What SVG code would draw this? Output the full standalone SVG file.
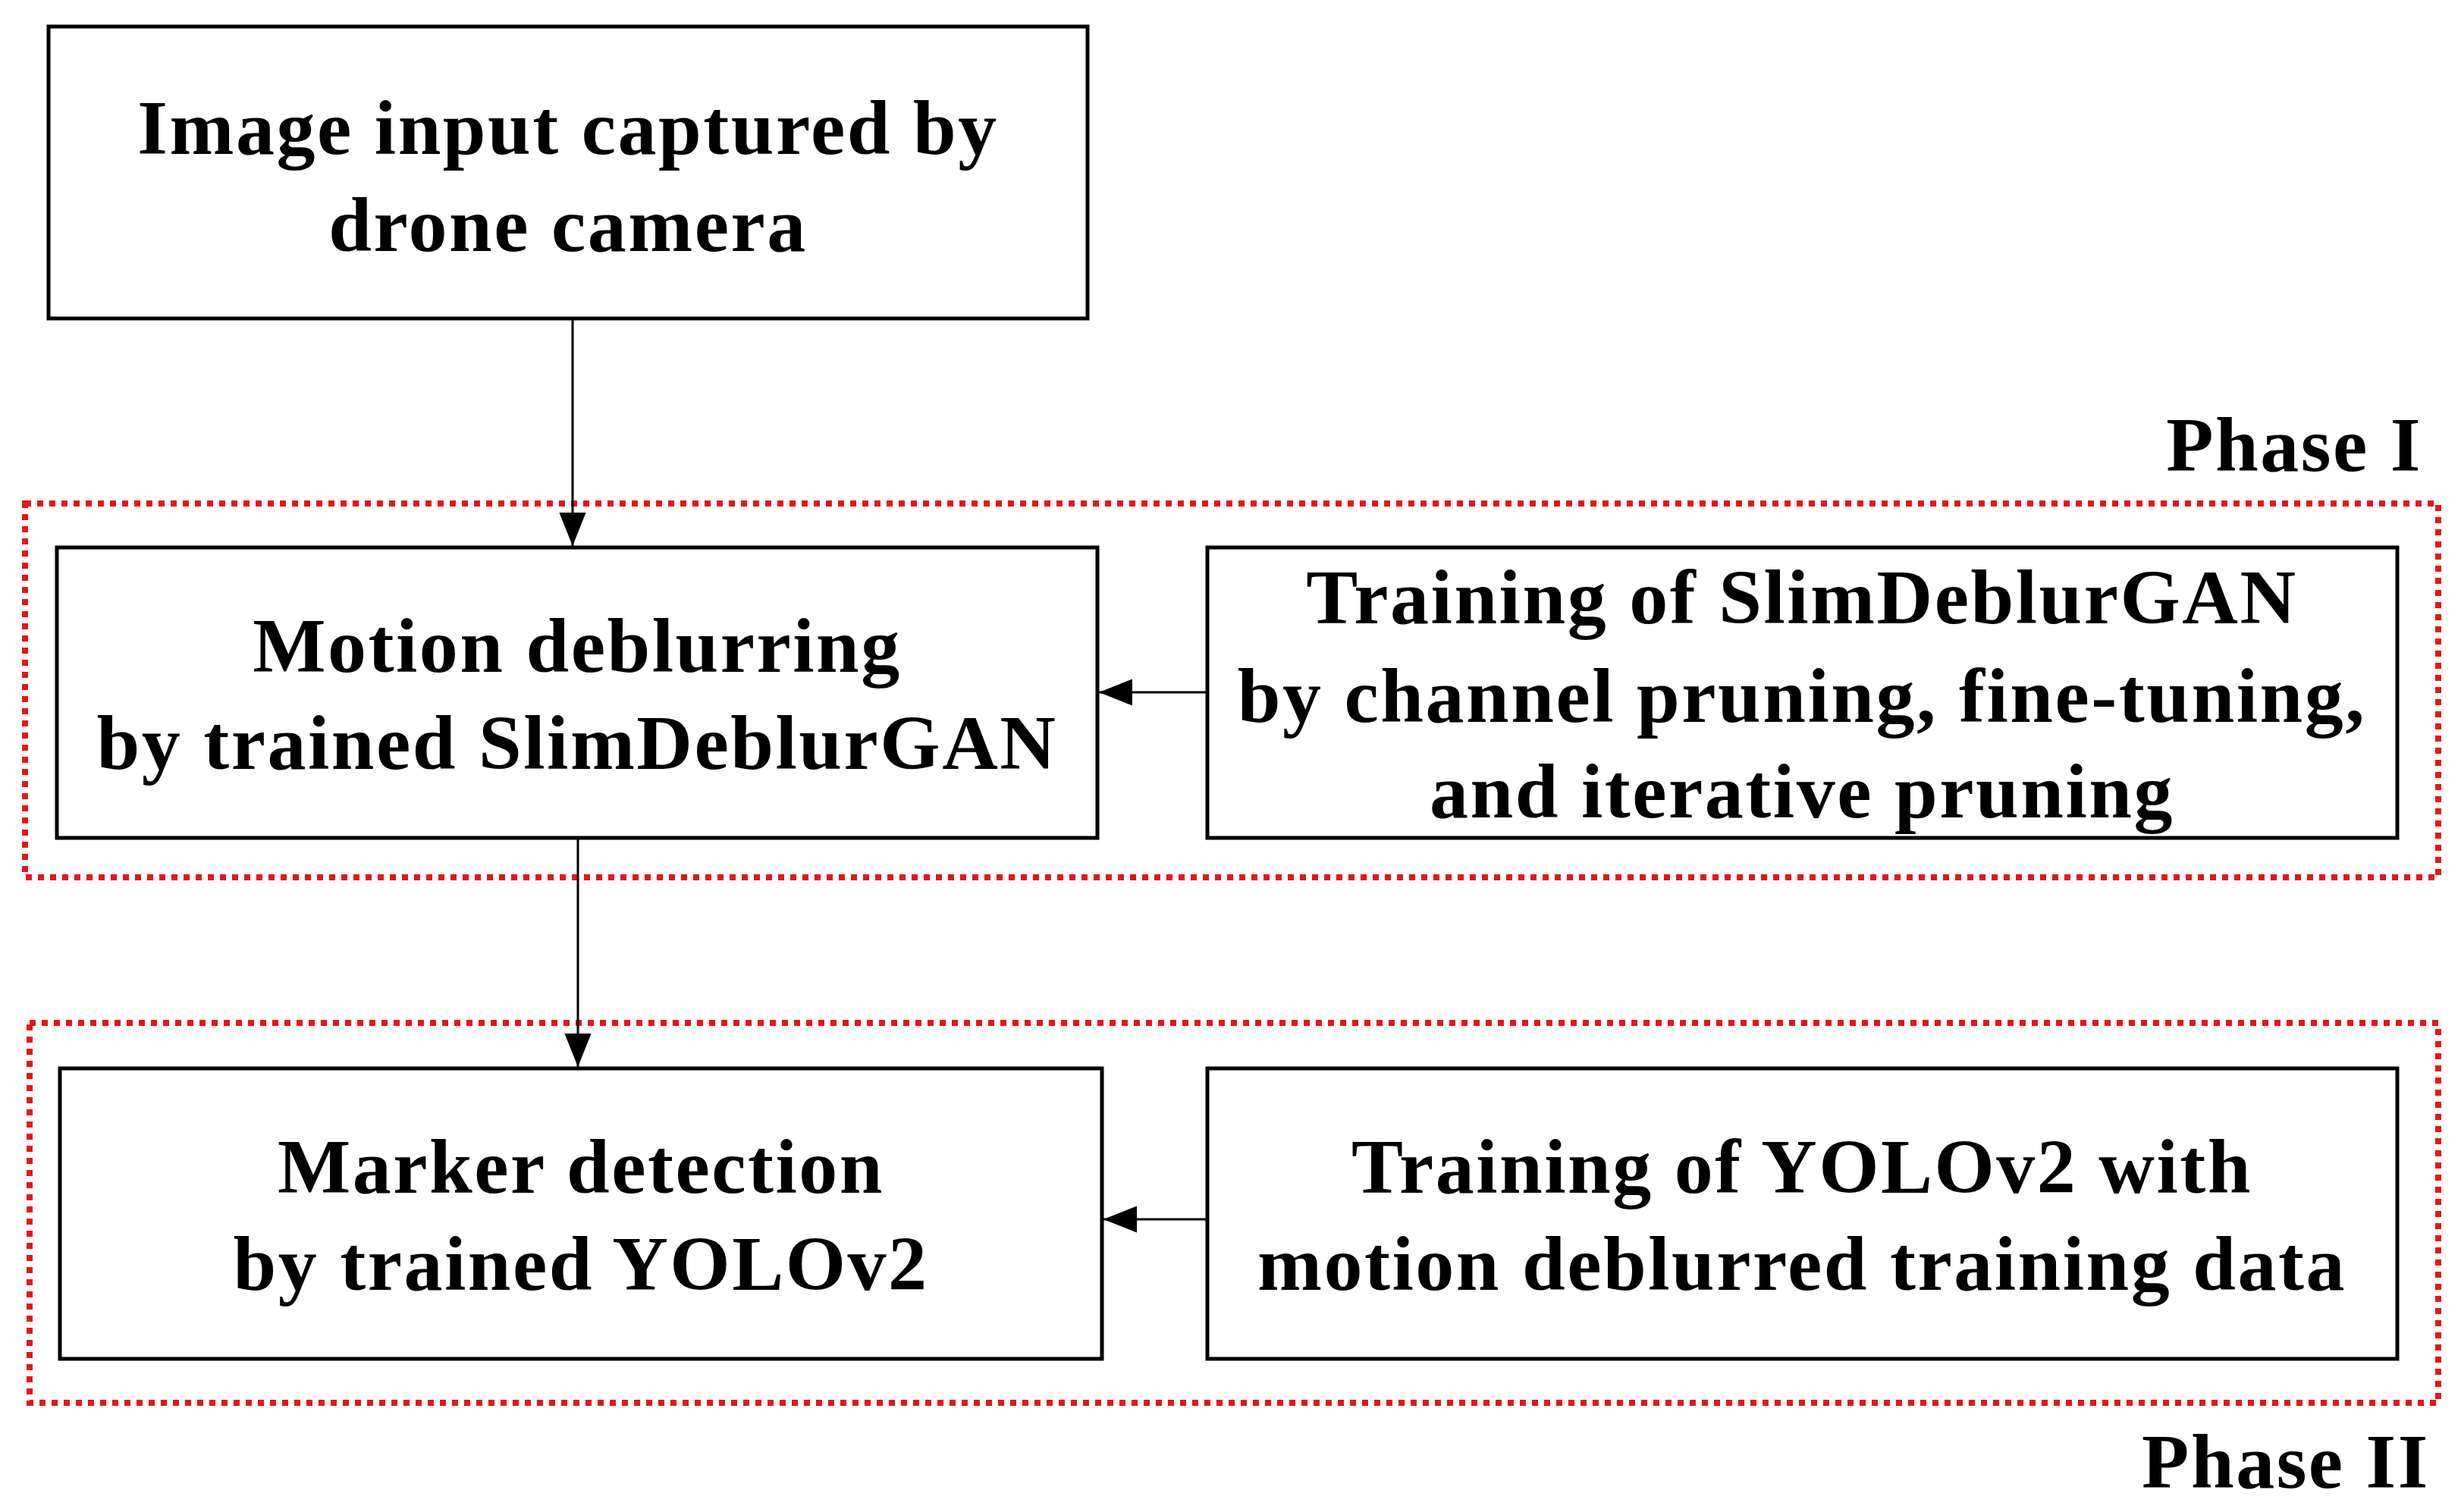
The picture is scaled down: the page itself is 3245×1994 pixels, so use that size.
<svg xmlns="http://www.w3.org/2000/svg" width="3245" height="1994" viewBox="0 0 3245 1994">
<style>
.box{fill:#fff;stroke:#000;stroke-width:5}
.ph{fill:none;stroke:#e8141b;stroke-width:8;stroke-dasharray:8 8}
text{font-family:"Liberation Serif","Times New Roman",serif;font-weight:bold;font-size:102px;letter-spacing:2.5px;fill:#000;text-anchor:middle}
.con{stroke:#000;stroke-width:3;fill:none}
</style>
<defs><marker id="b" viewBox="0 0 10 10" refX="10" refY="5" markerWidth="44" markerHeight="44" markerUnits="userSpaceOnUse" orient="auto"><path d="M0,1L10,5L0,9z" fill="#000"/></marker></defs>
<g id="phase1"><rect class="ph" x="33" y="664" width="3182" height="493"/><text x="3194" y="621" style="text-anchor:end">Phase I</text></g>
<g id="phase2"><rect class="ph" x="39" y="1349" width="3176" height="501"/><text x="3204" y="1962" style="text-anchor:end">Phase II</text></g>
<g id="n1"><rect class="box" x="64" y="35" width="1370" height="385"/><text x="749" y="203">Image input captured by</text><text x="749" y="331">drone camera</text></g>
<g id="n2"><rect class="box" x="75" y="722" width="1372" height="383"/><text x="761" y="886">Motion deblurring</text><text x="761" y="1014">by trained SlimDeblurGAN</text></g>
<g id="n3"><rect class="box" x="1592" y="722" width="1569" height="383"/><text x="2376" y="822">Training of SlimDeblurGAN</text><text x="2376" y="952">by channel pruning, fine-tuning,</text><text x="2376" y="1078">and iterative pruning</text></g>
<g id="n4"><rect class="box" x="79" y="1409" width="1374" height="383"/><text x="766" y="1573">Marker detection</text><text x="766" y="1701">by trained YOLOv2</text></g>
<g id="n5"><rect class="box" x="1592" y="1409" width="1569" height="383"/><text x="2376" y="1573">Training of YOLOv2 with</text><text x="2376" y="1701">motion deblurred training data</text></g>
<g id="connectors">
<line class="con" x1="755" y1="420" x2="755" y2="720" marker-end="url(#b)"/>
<line class="con" x1="762" y1="1105" x2="762" y2="1407" marker-end="url(#b)"/>
<line class="con" x1="1592" y1="913" x2="1449" y2="913" marker-end="url(#b)"/>
<line class="con" x1="1592" y1="1608" x2="1455" y2="1608" marker-end="url(#b)"/>
</g>
</svg>
